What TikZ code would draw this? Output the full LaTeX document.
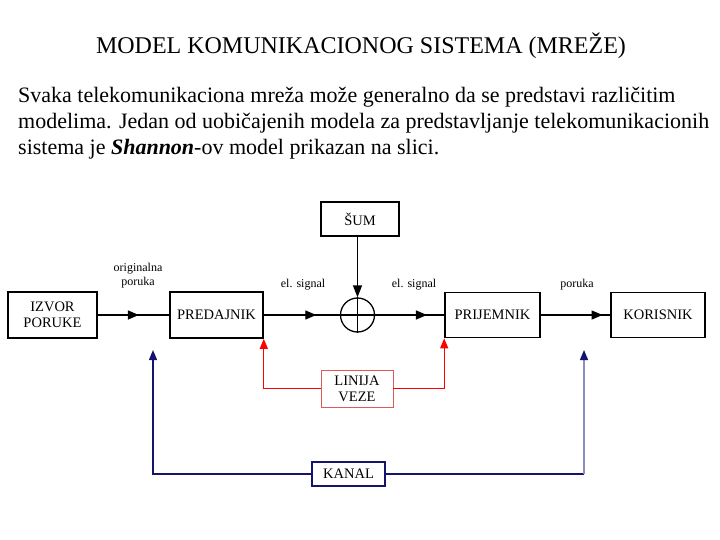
\documentclass[tikz,border=0pt]{standalone}
\usepackage{fontspec}
\setmainfont{Liberation Serif}
\usetikzlibrary{arrows.meta,decorations.markings}
\definecolor{navyb}{RGB}{20,20,110}
\definecolor{lightnavy}{RGB}{140,140,190}
\definecolor{boxred}{RGB}{220,90,90}
\tikzset{
  blk/.style={draw=black, line width=1.6pt, inner sep=0pt, align=center, font=\fontsize{14.5}{17}\selectfont},
  lbl/.style={inner sep=0pt, align=center, font=\fontsize{12}{14}\selectfont},
  flow/.style={line width=1.3pt},
  midarr/.style={postaction={decorate}, decoration={markings, mark=at position #1 with {\arrow{Triangle[length=11pt,width=9pt]}}}},
  ptxt/.style={anchor=base west, inner sep=0pt, font=\fontsize{22}{26}\selectfont},
}
\begin{document}
\begin{tikzpicture}[x=1pt,y=-1pt]
\useasboundingbox (0,0) rectangle (720,540);
\node[anchor=base, inner sep=0pt, font=\fontsize{24}{28}\selectfont] (title) at (361,54) {MODEL KOMUNIKACIONOG SISTEMA (MREŽE)};
\node[ptxt] (p1) at (18,103) {Svaka telekomunikaciona mreža može generalno da se predstavi različitim};
\node[ptxt] (p2) at (18,129) {modelima. Jedan od uobičajenih modela za predstavljanje telekomunikacionih};
\node[ptxt] (p3) at (18,155) {sistema je \textbf{\textit{Shannon}}-ov model prikazan na slici.};

\node[blk, minimum width=89pt, minimum height=46pt] (izvor) at (52.5,315) {IZVOR\\[-1pt]PORUKE};
\node[blk, minimum width=93pt, minimum height=46pt] (pred) at (216.5,315) {PREDAJNIK};
\node[draw, line width=1.3pt, circle, minimum size=34pt, inner sep=0pt] (sum) at (357.5,315) {};
\node[blk, minimum width=78pt, minimum height=34pt] (sum2) at (360,219) {ŠUM};
\node[blk, minimum width=95pt, minimum height=45pt] (prij) at (492.5,315) {PRIJEMNIK};
\node[blk, minimum width=94pt, minimum height=45pt] (kor) at (658,315) {KORISNIK};
\node[blk, draw=boxred, line width=0.9pt, minimum width=72pt, minimum height=37pt] (linija) at (357,388.5) {LINIJA\\[-1pt]VEZE};
\node[blk, draw=navyb, line width=1.8pt, minimum width=73pt, minimum height=24pt] (kanal) at (348.5,474) {KANAL};

\draw[line width=1.1pt] (sum.north) -- (sum.south) (sum.west) -- (sum.east);

\draw[flow, midarr=0.575] (izvor.east) -- (pred.west);
\draw[flow, midarr=0.69] (pred.east) -- (sum.west);
\draw[flow, midarr=0.75] (sum.east) -- (prij.west);
\draw[flow, midarr=0.89] (prij.east) -- (kor.west);
\draw[flow, -{Triangle[length=12pt,width=9pt]}] (sum2.south -| sum.north) -- (sum.north);

\node[lbl] (l1) at (138,276) {originalna\\poruka};
\node[lbl] (l2) at (303,285) {el. signal};
\node[lbl] (l3) at (414,285) {el. signal};
\node[lbl] (l4) at (577,285) {poruka};

\draw[red, line width=1pt, -{Triangle[length=10pt,width=8pt]}] (linija.west) -| (pred.south east);
\draw[red, line width=1pt, -{Triangle[length=10pt,width=8pt]}] (linija.east) -| (prij.south west);

\coordinate (ka) at (153,350);
\coordinate (kb) at (584,350);
\draw[navyb, line width=1.2pt, -{Triangle[length=10pt,width=8pt]}] (kanal.west) -| (ka);
\draw[navyb, line width=1.2pt] (kanal.east) -- (kanal.east -| kb);
\draw[lightnavy, line width=1.2pt, -{Triangle[length=10pt,width=8pt,color=navyb]}] (kanal.east -| kb) -- (kb);
\end{tikzpicture}
\end{document}
